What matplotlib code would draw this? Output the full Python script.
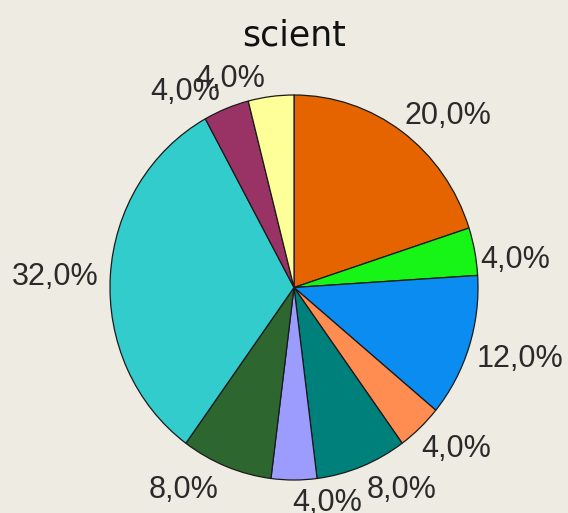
import matplotlib.pyplot as plt

# slice shares (percent), clockwise from 12 o'clock
shares = [20, 4, 12, 4, 8, 4, 8, 32, 4, 4]
colors = ['#E66400', '#16F516', '#0A8CF0', '#FF8C50', '#00807A',
          '#9C9CFF', '#2E6630', '#33CCCC', '#993366', '#FFFF99']
title = 'scient'

# where the old chart put each label (x center, baseline), in pie radii
label_xy = [(0.837, 0.849), (1.201, 0.101), (1.228, -0.413), (0.880, -0.881),
            (0.582, -1.091), (0.179, -1.161), (-0.598, -1.096), (-1.299, 0.013),
            (-0.592, 0.974), (-0.348, 1.039)]

bg = '#EEEBE3'
fig = plt.figure(figsize=(5.68, 5.13), dpi=100, facecolor=bg)

# pie box: center (294, 287.5) px, radii 184 x 192.5 px
cx, cy, rx, ry = 294, 287.5, 184, 192.5
W, H = 568, 513
ax = fig.add_axes([(cx - rx) / W, (H - cy - ry) / H, 2 * rx / W, 2 * ry / H])
ax.set_facecolor(bg)

wedges, _ = ax.pie(shares, colors=colors, startangle=90, counterclock=False,
                   frame=False,
                   wedgeprops=dict(edgecolor='#1a1a1a', linewidth=0.9))

for s, (x, y) in zip(shares, label_xy):
    ax.text(x, y, f'{s:.1f}%'.replace('.', ','), ha='center', va='baseline',
            fontsize=22, color='#2a2a2a', family='Liberation Sans', clip_on=False)

ax.set_aspect('auto')
ax.set_xlim(-1, 1)
ax.set_ylim(-1, 1)

fig.text(cx / W, 1 - 46 / H, title, ha='center', va='baseline',
         fontsize=25, color='#111111')

fig.savefig('out.png', dpi=100, facecolor=bg)
